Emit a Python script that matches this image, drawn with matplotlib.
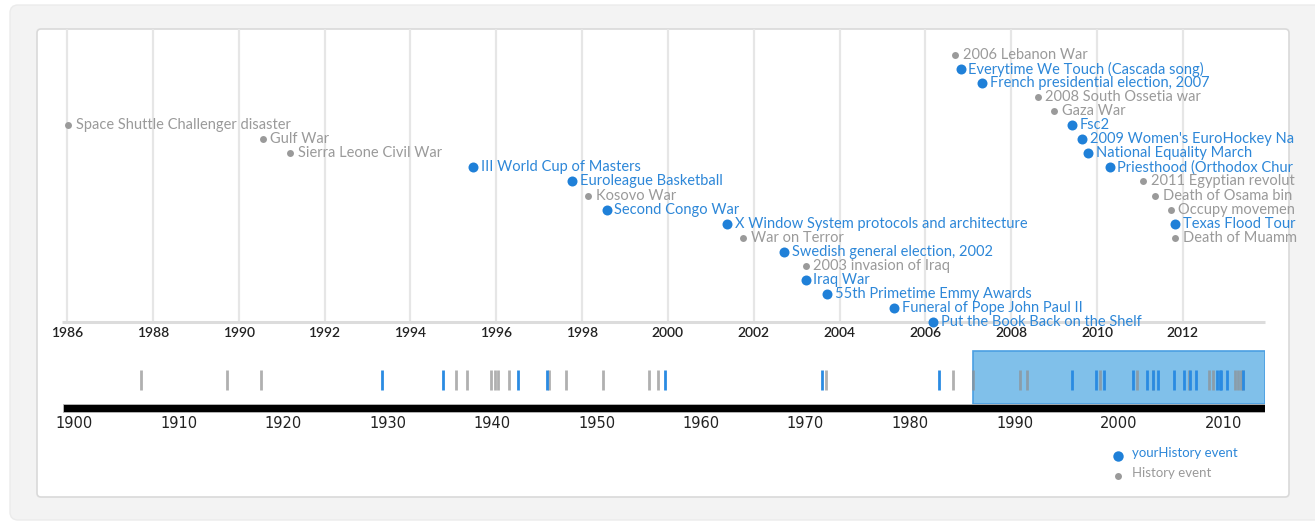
import matplotlib
matplotlib.use('Agg')
import matplotlib.pyplot as plt
from matplotlib.patches import FancyBboxPatch, Rectangle

# события до 1986 года (видны только на нижней шкале)
early_years = [1906.4, 1914.6, 1917.9, 1929.5, 1935.3, 1936.6, 1937.6, 1939.9,
               1940.3, 1940.6, 1941.6, 1942.5, 1945.3, 1945.5, 1947.1, 1950.6,
               1955.0, 1955.9, 1956.6, 1971.6, 1972.0, 1982.8, 1984.1]
early_kinds = [0, 0, 0, 1, 1, 0, 0, 0,
               0, 0, 0, 1, 1, 0, 0, 0,
               0, 0, 1, 1, 0, 1, 0]

# события в выбранном диапазоне (1 = yourHistory, 0 = History)
# подписи у правого края обрезаны так же, как на исходной картинке
names = ['Space Shuttle Challenger disaster', 'Gulf War', 'Sierra Leone Civil War',
         'III World Cup of Masters', 'Euroleague Basketball', 'Kosovo War',
         'Second Congo War', 'X Window System protocols and architecture',
         'War on Terror', 'Swedish general election, 2002', '2003 invasion of Iraq',
         'Iraq War', '55th Primetime Emmy Awards', 'Funeral of Pope John Paul II',
         'Put the Book Back on the Shelf', '2006 Lebanon War',
         'Everytime We Touch (Cascada song)', 'French presidential election, 2007',
         '2008 South Ossetia war', 'Gaza War', 'Fsc2',
         "2009 Women's EuroHockey Na", 'National Equality March',
         'Priesthood (Orthodox Chur', '2011 Egyptian revolut',
         'Death of Osama bin', 'Occupy movemen', 'Texas Flood Tour',
         'Death of Muamm']
years = [1986.03, 1990.56, 1991.2, 1995.47, 1997.77, 1998.15, 1998.57, 2001.38,
         2001.76, 2002.71, 2003.21, 2003.21, 2003.71, 2005.27, 2006.18, 2006.69,
         2006.82, 2007.33, 2008.62, 2009.0, 2009.42, 2009.66, 2009.8, 2010.3,
         2011.08, 2011.35, 2011.72, 2011.82, 2011.82]
kinds = [0, 0, 0, 1, 1, 0, 1, 1,
         0, 1, 0, 1, 1, 1, 1, 0,
         1, 1, 0, 0, 1, 1, 1, 1,
         0, 0, 0, 1, 0]

top_ticks = list(range(1986, 2013, 2))
bottom_ticks = list(range(1900, 2011, 10))
legend_labels = ['yourHistory event', 'History event']

BLUE = '#1f80d8'
BLUE_TXT = '#2d87d8'
GRAY = '#9a9a9a'
W, H = 1315, 523

fig = plt.figure(figsize=(W / 100, H / 100), dpi=100)
fig.patch.set_facecolor('white')


def box(x0, y0, x1, y1):
    return [x0 / W, 1 - y1 / H, (x1 - x0) / W, (y1 - y0) / H]


# фон и карточка
bg = fig.add_axes([0, 0, 1, 1])
bg.set_xlim(0, W)
bg.set_ylim(H, 0)
bg.axis('off')
bg.add_patch(FancyBboxPatch((10, 5), W, 515, boxstyle='round,pad=0,rounding_size=8',
                            fc='#f3f3f3', ec='#ebebeb', lw=1))
bg.add_patch(FancyBboxPatch((37, 29), 1252, 468, boxstyle='round,pad=0,rounding_size=4',
                            fc='white', ec='#d9d9d9', lw=1.2))
card_clip = Rectangle((37, 29), 1252, 468, transform=bg.transData, fc='none', ec='none')

# легенда
for (lab, col, tcol, ms), yy in zip(zip(legend_labels, [BLUE, GRAY], [BLUE_TXT, GRAY], [7.5, 5]),
                                    [456, 476]):
    bg.plot([1118], [yy], 'o', color=col, ms=ms, mec='none')
    bg.text(1132, yy - 3, lab, color=tcol, fontsize=9.5, family='Lato', va='center')

# верхняя шкала: подробная
px_year = 42.92
x0_top = 1986.0 - 5 / px_year
x1_top = 1986.0 + (1289 - 67) / px_year
end_year = 1986.0 + (1265 - 67) / px_year
ax = fig.add_axes(box(62, 29, 1289, 322))
ax.patch.set_alpha(0)
ax.set_xlim(x0_top, x1_top)
ax.set_ylim(19.0, -1.85)
for s in ax.spines.values():
    s.set_visible(False)
ax.set_yticks([])
ax.set_xticks(top_ticks)
ax.set_xticklabels([str(t) for t in top_ticks], family='Lato', fontsize=10,
                   color='#222222', fontweight='semibold')
ax.tick_params(axis='x', length=0, pad=3.5)
ax.vlines(top_ticks, -1.85, 19.0, color='#e6e6e6', lw=1.6, zorder=1)
ax.plot([x0_top, end_year], [19.0, 19.0], color='#dcdcdc', lw=2.2, zorder=1,
        solid_capstyle='butt', clip_on=False)

for i, (nm, yr, k) in enumerate(zip(names, years, kinds)):
    row = (i + 5) % 20
    col = BLUE if k else GRAY
    ax.plot([yr], [row], 'o', color=col, ms=7.2 if k else 5, mec='none', zorder=3,
            clip_on=False)
    t = ax.text(yr + 7.5 / px_year, row, nm, color=BLUE_TXT if k else GRAY,
                fontsize=10.5, family='Lato', va='center', ha='left', zorder=3)
    t.set_clip_path(card_clip)

# нижняя шкала: обзор
px_dec = 10.45
xb0 = 1900 + (63 - 74) / px_dec
xb1 = 1900 + (1265 - 74) / px_dec
axb = fig.add_axes(box(63, 350, 1265, 413))
axb.patch.set_alpha(0)
axb.set_xlim(xb0, xb1)
axb.set_ylim(413, 350)
for s in axb.spines.values():
    s.set_visible(False)
axb.set_yticks([])
axb.set_xticks(bottom_ticks)
axb.set_xticklabels([str(t) for t in bottom_ticks], family='DejaVu Sans', fontsize=10.5,
                    color='#222222')
axb.tick_params(axis='x', length=0, pad=2)

axb.add_patch(Rectangle((years[0], 351), xb1 - years[0], 53, fc='#80c0ea', ec='#4b9fe2',
                        lw=1.2, zorder=1))
axb.add_patch(Rectangle((xb0, 403.5), xb1 - xb0, 8.5, fc='black', ec='#bbbbbb', lw=0.6,
                        zorder=2))

all_years = early_years + years
all_kinds = early_kinds + kinds
gy = [y for y, k in zip(all_years, all_kinds) if not k]
by = [y for y, k in zip(all_years, all_kinds) if k]
axb.vlines(gy, 370, 390, color='#8f8f8f', alpha=0.7, lw=2.0, zorder=3)
axb.vlines(by, 370, 390, color='#2a8be2', lw=2.0, zorder=4)

plt.savefig('out.png', dpi=100, facecolor=fig.get_facecolor())
